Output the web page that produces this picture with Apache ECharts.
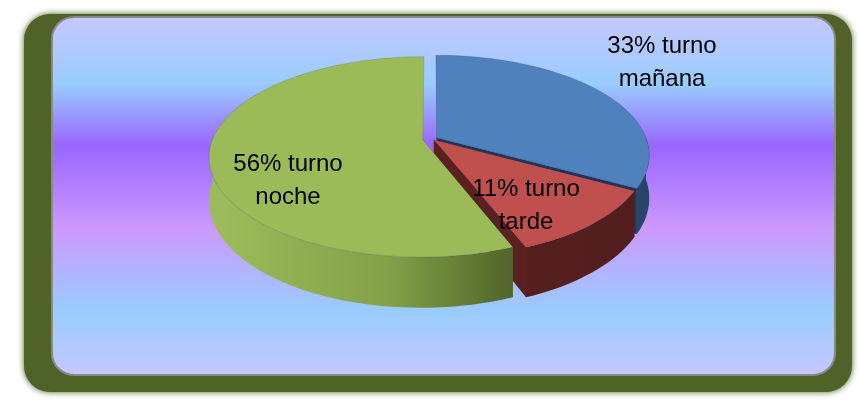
<!DOCTYPE html>
<html>
<head>
<meta charset="utf-8">
<script src="https://cdn.jsdelivr.net/npm/echarts@6/dist/echarts.min.js"></script>
<style>
  html, body { margin: 0; padding: 0; background: #ffffff; }
  #chart { width: 859px; height: 401px; }
</style>
</head>
<body>
<div id="chart"></div>
<script>
  // datos
  const turnos = ['turno mañana', 'turno tarde', 'turno noche'];
  const porcentajes = [33, 11, 56];

  // estilo de cada porción
  const topColors = ['#4f81bd', '#c0504d', '#9bbb59'];
  const sideStops = [
    [[0, '#30527a'], [1, '#284569']],
    [[0, '#5e2322'], [1, '#521e1d']],
    [[0, '#9cbb5a'], [0.4, '#82a048'], [0.72, '#4c5f27'], [1, '#4c5f27']]
  ];
  const cutColors = ['#1f3756', '#5a2120', '#5d7330'];
  const explode = [0.025, 0.012, 0.045];
  const labelOffsets = [[230, -76], [94, 67], [-144, 42]];

  // pastel 3D con un poco de perspectiva
  const pie = { cx: 432, cy: 139, R: 210, Ry: 97, depth: 42, p: 0.17 };

  const total = porcentajes.reduce((a, b) => a + b, 0);
  const slices = [];
  let ang = 90;
  porcentajes.forEach((v, i) => {
    const start = ang;
    const end = ang - v / total * 360;
    const mid = (start + end) / 2 * Math.PI / 180;
    slices.push({
      start: start,
      end: end,
      du: Math.cos(mid) * explode[i],
      dv: Math.sin(mid) * explode[i]
    });
    ang = end;
  });

  function project (u, v, h) {
    const w = 1 + pie.p * v;
    return [pie.cx + pie.R * u / w, pie.cy - pie.Ry * v / w + pie.depth * h / w];
  }

  function arc (s, a1, a2, h) {
    const pts = [];
    const n = Math.max(2, Math.ceil(Math.abs(a2 - a1) / 2));
    for (let k = 0; k <= n; k++) {
      const a = (a1 + (a2 - a1) * k / n) * Math.PI / 180;
      pts.push(project(Math.cos(a) + s.du, Math.sin(a) + s.dv, h));
    }
    return pts;
  }

  function cutFace (s, a) {
    const r = a * Math.PI / 180;
    return [
      project(s.du, s.dv, 0),
      project(Math.cos(r) + s.du, Math.sin(r) + s.dv, 0),
      project(Math.cos(r) + s.du, Math.sin(r) + s.dv, 1),
      project(s.du, s.dv, 1)
    ];
  }

  function renderItem (params, api) {
    const i = params.dataIndex;
    const s = slices[i];
    const children = [];

    // caras de corte visibles
    const faces = [[s.end, s.end - 90], [s.start, s.start + 90]];
    faces.forEach(f => {
      if (Math.sin(f[1] * Math.PI / 180) < -0.05) {
        children.push({
          type: 'polygon',
          z2: 1,
          shape: { points: cutFace(s, f[0]) },
          style: { fill: cutColors[i] }
        });
      }
    });

    // pared lateral (mitad delantera)
    for (let k = -1; k <= 1; k++) {
      const lo = Math.max(s.end, -180 + 360 * k);
      const hi = Math.min(s.start, 360 * k);
      if (hi > lo) {
        const pts = arc(s, lo, hi, 0).concat(arc(s, hi, lo, 1));
        children.push({
          type: 'polygon',
          z2: 2,
          shape: { points: pts },
          style: {
            fill: new echarts.graphic.LinearGradient(pie.cx - pie.R, 0, pie.cx + pie.R, 0,
              sideStops[i].map(st => ({ offset: st[0], color: st[1] })), true)
          }
        });
      }
    }

    // cara superior
    children.push({
      type: 'polygon',
      z2: 3,
      shape: { points: [project(s.du, s.dv, 0)].concat(arc(s, s.start, s.end, 0)) },
      style: { fill: topColors[i], stroke: 'rgba(0,0,0,0.12)', lineWidth: 1 }
    });

    // etiqueta
    const words = turnos[i].split(' ');
    children.push({
      type: 'text',
      z2: 10,
      style: {
        text: api.value(0) + '% ' + words[0] + '\n' + words.slice(1).join(' '),
        x: pie.cx + labelOffsets[i][0],
        y: pie.cy + labelOffsets[i][1],
        fill: '#000000',
        font: '24px "Liberation Sans", Arial, sans-serif',
        lineHeight: 33,
        align: 'center',
        verticalAlign: 'middle'
      }
    });

    return { type: 'group', children: children };
  }

  const chart = echarts.init(document.getElementById('chart'));
  chart.setOption({
    animation: false,
    graphic: {
      elements: [
        {
          type: 'rect',
          z: 0,
          shape: { x: 24, y: 14, width: 828, height: 378, r: 26 },
          style: { fill: '#4f6228', shadowBlur: 6, shadowColor: '#4f6228' }
        },
        {
          type: 'rect',
          z: 1,
          shape: { x: 52, y: 17, width: 783, height: 358, r: 22 },
          style: {
            fill: new echarts.graphic.LinearGradient(0, 0, 0, 1, [
              { offset: 0, color: '#c6c8fe' },
              { offset: 0.19, color: '#99ccff' },
              { offset: 0.36, color: '#9966ff' },
              { offset: 0.59, color: '#cc99ff' },
              { offset: 0.82, color: '#99ccff' },
              { offset: 1, color: '#c6c8fe' }
            ]),
            stroke: '#8a8a8a',
            lineWidth: 2
          }
        }
      ]
    },
    series: [{
      type: 'custom',
      coordinateSystem: 'none',
      silent: true,
      renderItem: renderItem,
      data: porcentajes.map((v, i) => ({ name: turnos[i], value: [v] }))
    }]
  });
</script>
</body>
</html>
